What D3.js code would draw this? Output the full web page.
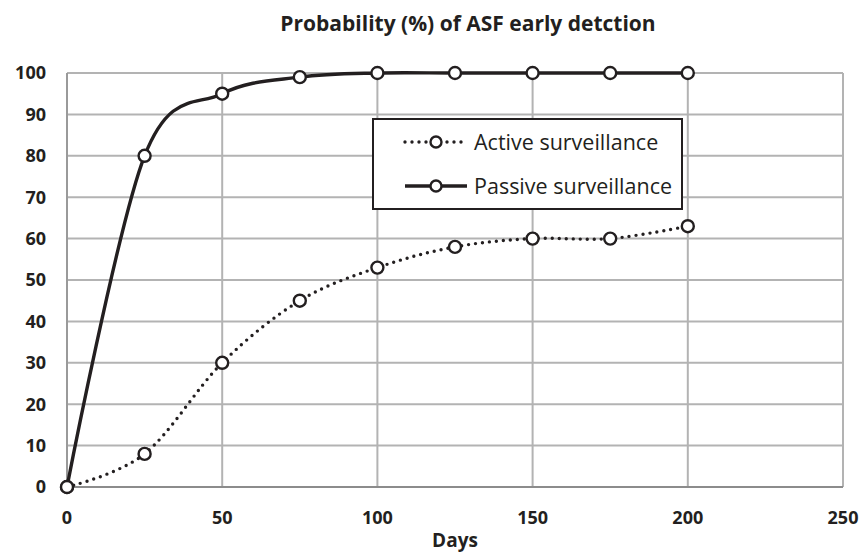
<!DOCTYPE html>
<html><head><meta charset="utf-8">
<script src="https://cdn.jsdelivr.net/npm/d3@7"></script>
<style>body{margin:0;background:#fff}</style>
</head><body>
<svg id="c" width="861" height="552"></svg>
<script>
const days = [0,25,50,75,100,125,150,175,200];
const passive = [0,80,95,99,100,100,100,100,100];
const active = [0,8,30,45,53,58,60,60,63];
const xTicks = [0,50,100,150,200,250];
const yTicks = [0,10,20,30,40,50,60,70,80,90,100];
const seriesNames = ["Active surveillance","Passive surveillance"];

const svg = d3.select("#c");
const font = "'Open Sans', 'Noto Sans', sans-serif";
const x = d3.scaleLinear().domain([0,250]).range([67,843]);
const y = d3.scaleLinear().domain([0,100]).range([487,73]);
const ink = "#231f20";

// gridlines
svg.append("g").selectAll("line").data(yTicks).join("line")
  .attr("x1",x(0)).attr("x2",x(250)).attr("y1",d=>y(d)).attr("y2",d=>y(d))
  .attr("stroke","#b3b3b3").attr("stroke-width",2);
svg.append("g").selectAll("line").data(xTicks).join("line")
  .attr("x1",d=>x(d)).attr("x2",d=>x(d)).attr("y1",y(0)).attr("y2",y(100))
  .attr("stroke","#b3b3b3").attr("stroke-width",2);
svg.append("line").attr("x1",x(0)).attr("x2",x(250)).attr("y1",y(0)).attr("y2",y(0))
  .attr("stroke","#8c8c8c").attr("stroke-width",2);
svg.append("line").attr("x1",x(0)).attr("x2",x(0)).attr("y1",y(0)).attr("y2",y(100))
  .attr("stroke","#9a9a9a").attr("stroke-width",2);

// axes labels
svg.append("g").selectAll("text").data(yTicks).join("text")
  .attr("x",46).attr("y",d=>y(d)).attr("dy","0.36em").attr("text-anchor","end")
  .attr("font-family",font).attr("font-weight",700).attr("font-size",18).attr("fill",ink)
  .text(d=>d);
svg.append("g").selectAll("text").data(xTicks).join("text")
  .attr("x",d=>x(d)).attr("y",524).attr("text-anchor","middle")
  .attr("font-family",font).attr("font-weight",700).attr("font-size",18).attr("fill",ink)
  .text(d=>d);

svg.append("text").attr("x",468).attr("y",31).attr("text-anchor","middle")
  .attr("font-family",font).attr("font-weight",700).attr("font-size",21).attr("fill",ink)
  .text("Probability (%) of ASF early detction");
svg.append("text").attr("x",455).attr("y",547).attr("text-anchor","middle")
  .attr("font-family",font).attr("font-weight",700).attr("font-size",19).attr("fill",ink)
  .text("Days");

const curve = d3.curveCardinal.tension(0);
const line = vals => d3.line().x((d,i)=>x(days[i])).y(d=>y(d)).curve(curve)(vals);

svg.append("path").attr("d",line(active)).attr("fill","none").attr("stroke",ink)
  .attr("stroke-width",3.4).attr("stroke-linecap","round").attr("stroke-dasharray","0,7");
svg.append("path").attr("d",line(passive)).attr("fill","none").attr("stroke",ink)
  .attr("stroke-width",3.4);

[active,passive].forEach(vals=>{
  svg.append("g").selectAll("circle").data(vals).join("circle")
    .attr("cx",(d,i)=>x(days[i])).attr("cy",d=>y(d)).attr("r",6)
    .attr("fill","#fff").attr("stroke",ink).attr("stroke-width",2.4);
});

// legend
const lg = svg.append("g");
lg.append("rect").attr("x",373).attr("y",119).attr("width",309).attr("height",90)
  .attr("fill","#fff").attr("stroke",ink).attr("stroke-width",2);
const ly = [142,186];
lg.append("line").attr("x1",405).attr("x2",467).attr("y1",ly[0]).attr("y2",ly[0])
  .attr("stroke",ink).attr("stroke-width",3.4).attr("stroke-linecap","round").attr("stroke-dasharray","0,7");
lg.append("line").attr("x1",405).attr("x2",467).attr("y1",ly[1]).attr("y2",ly[1])
  .attr("stroke",ink).attr("stroke-width",3.4);
ly.forEach((yy,i)=>{
  lg.append("circle").attr("cx",436).attr("cy",yy).attr("r",5.5).attr("fill","#fff")
    .attr("stroke",ink).attr("stroke-width",2.4);
  lg.append("text").attr("x",474).attr("y",yy).attr("dy","0.35em")
    .attr("font-family",font).attr("font-size",21.5).attr("fill",ink).text(seriesNames[i]);
});
</script>
</body></html>
